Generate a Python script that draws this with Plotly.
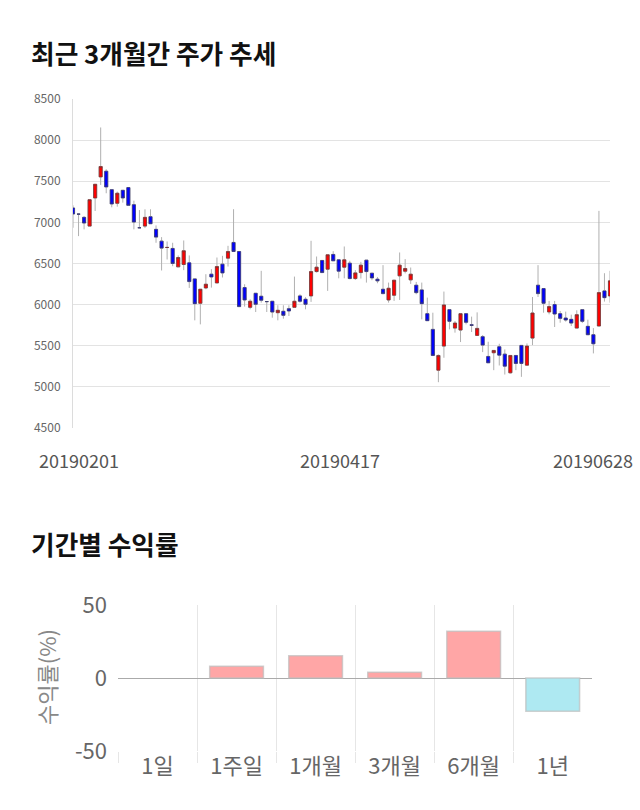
import plotly.graph_objects as go

# ---------------- data ----------------
open_ = [7175, 7100, 7061, 6955, 7297, 7553, 7622, 7398, 7232, 7390,
         7423, 7215, 6935, 6955, 7069, 6915, 6772, 6695, 6683, 6459,
         6488, 6508, 6313, 6016, 6203, 6370, 6264, 6492, 6565, 6756,
         6646, 6207, 5967, 6138, 6102, 6037, 6041, 5902, 5919, 5951,
         5967, 6106, 6065, 6106, 6402, 6537, 6431, 6610, 6545, 6455,
         6504, 6317, 6390, 6541, 6382, 6309, 6187, 6057, 6114, 6350,
         6406, 6301, 6236, 6179, 5890, 5699, 5203, 5496, 5939, 5715,
         5691, 5890, 5756, 5626, 5610, 5370, 5415, 5488, 5398, 5171,
         5382, 5504, 5264, 5593, 6236, 6195, 5911, 6000, 5890, 5837,
         5821, 5715, 5939, 5736, 5634, 5740, 6167, 6106]
high = [7207, 7110, 7077, 7276, 7463, 8154, 7646, 7398, 7374, 7390,
        7423, 7264, 7150, 7159, 7159, 6963, 6821, 6768, 6752, 6598,
        6780, 6598, 6313, 6187, 6370, 6431, 6573, 6593, 6715, 7160,
        6646, 6248, 6065, 6138, 6411, 6037, 6041, 5992, 5992, 5992,
        6341, 6126, 6090, 6776, 6585, 6537, 6606, 6650, 6545, 6707,
        6533, 6420, 6520, 6541, 6382, 6335, 6480, 6268, 6297, 6634,
        6553, 6451, 6276, 6268, 6085, 5902, 5394, 6159, 5939, 5801,
        5890, 5890, 5854, 5906, 5630, 5549, 5443, 5524, 5455, 5382,
        5382, 5504, 5528, 6093, 6480, 6195, 6045, 6045, 5923, 5915,
        5878, 5931, 5939, 5817, 5715, 7140, 6382, 6411]
low = [6935, 6833, 6915, 6955, 7138, 7455, 7354, 7183, 7191, 7240,
       7203, 6915, 6927, 6931, 6984, 6752, 6415, 6549, 6467, 6459,
       6419, 6203, 5809, 5760, 6187, 6207, 6264, 6330, 6463, 6646,
       5976, 5976, 5943, 5910, 6024, 5910, 5841, 5809, 5829, 5862,
       5967, 6024, 5943, 6033, 6390, 6390, 6167, 6533, 6320, 6320,
       6309, 6300, 6317, 6268, 6297, 6260, 6126, 6024, 6045, 6057,
       6380, 6252, 6126, 5821, 5801, 5374, 5057, 5354, 5699, 5659,
       5545, 5760, 5667, 5626, 5423, 5293, 5203, 5260, 5150, 5163,
       5203, 5122, 5264, 5508, 6093, 5902, 5882, 5728, 5780, 5793,
       5740, 5715, 5776, 5634, 5407, 5740, 6037, 6024]
close = [7102, 7100, 6992, 7276, 7463, 7679, 7431, 7224, 7354, 7297,
         7207, 7004, 6935, 7061, 6984, 6821, 6687, 6695, 6500, 6573,
         6655, 6280, 6012, 6187, 6248, 6337, 6463, 6386, 6646, 6646,
         5976, 6057, 6041, 6004, 6053, 6037, 5910, 5931, 5870, 5923,
         6041, 6041, 6004, 6402, 6455, 6390, 6606, 6533, 6407, 6545,
         6317, 6386, 6480, 6402, 6325, 6289, 6134, 6199, 6297, 6480,
         6439, 6370, 6146, 6012, 5805, 5382, 5382, 5996, 5797, 5776,
         5890, 5785, 5748, 5711, 5508, 5293, 5443, 5386, 5252, 5382,
         5285, 5285, 5496, 5898, 6134, 6016, 5976, 5886, 5833, 5813,
         5776, 5878, 5797, 5634, 5524, 6146, 6085, 6289]
day_index = list(range(len(open_)))
date_labels = ["20190201", "20190417", "20190628"]
date_label_index = [0, 48, len(open_) - 1]

periods = ["1일", "1주일", "1개월", "3개월", "6개월", "1년"]
returns = [0.0, 8.0, 15.2, 3.9, 32.0, -22.8]
return_ticks = [-50, 0, 50]
return_tick_text = ["-50", "0", "50"]

# ---------------- layout helpers ----------------
W, H = 640, 810
FONT = "Noto Sans CJK KR"


def fx(p):
    return p / W


def fy(p):
    return 1 - p / H


body_hi = [max(o, c) for o, c in zip(open_, close)]
body_lo = [min(o, c) for o, c in zip(open_, close)]

fig = go.Figure()
# wicks (gray)
fig.add_trace(go.Candlestick(
    x=day_index, open=open_, high=high, low=low, close=close,
    increasing=dict(line=dict(color="#b0b0b0", width=1), fillcolor="rgba(0,0,0,0)"),
    decreasing=dict(line=dict(color="#b0b0b0", width=1), fillcolor="rgba(0,0,0,0)"),
    whiskerwidth=0, xaxis="x", yaxis="y", hoverinfo="skip", showlegend=False))
# bodies
fig.add_trace(go.Candlestick(
    x=day_index, open=open_, high=body_hi, low=body_lo, close=close,
    increasing=dict(line=dict(color="#703838", width=0.7), fillcolor="#ff0000"),
    decreasing=dict(line=dict(color="#383870", width=0.7), fillcolor="#0000ff"),
    whiskerwidth=0, xaxis="x", yaxis="y", hoverinfo="skip", showlegend=False))

bar_colors = ["#ffa6a6" if v >= 0 else "#aee9f2" for v in returns]
bar_line_w = [0 if v == 0 else 1.5 for v in returns]
fig.add_trace(go.Bar(
    x=periods, y=returns, xaxis="x2", yaxis="y2",
    marker=dict(color=bar_colors,
                line=dict(color="rgba(190,190,190,0.7)", width=bar_line_w)),
    hoverinfo="skip", showlegend=False))

annotations = [
    dict(text="<b>최근 3개월간 주가 추세</b>", xref="paper", yref="paper",
         x=fx(29), y=fy(52), xanchor="left", yanchor="middle", showarrow=False,
         font=dict(family=FONT, size=25.7, color="#111")),
    dict(text="<b>기간별 수익률</b>", xref="paper", yref="paper",
         x=fx(29), y=fy(543), xanchor="left", yanchor="middle", showarrow=False,
         font=dict(family=FONT, size=25.7, color="#111")),
    dict(text="수익률(%)", xref="paper", yref="paper", textangle=-90,
         x=fx(46), y=fy(677), xanchor="center", yanchor="middle", showarrow=False,
         font=dict(family=FONT, size=22, color="#888")),
]
shifts = [6, 1, -17]
for lab, idx, sh in zip(date_labels, date_label_index, shifts):
    annotations.append(dict(text=lab, xref="x", yref="paper", x=idx, y=fy(460),
                            xshift=sh, xanchor="center", yanchor="middle",
                            showarrow=False,
                            font=dict(family=FONT, size=18, color="#555")))

fig.update_layout(
    template="none",
    width=W, height=H, margin=dict(l=0, r=0, t=0, b=0, pad=0, autoexpand=False),
    autosize=False,
    paper_bgcolor="white", plot_bgcolor="white",
    font=dict(family=FONT, color="#666"),
    showlegend=False, bargap=0.32, boxgap=0.2,
    xaxis=dict(domain=[fx(73), fx(610)], range=[0, len(open_) - 1],
               showgrid=False, showticklabels=False, zeroline=False,
               rangeslider=dict(visible=False), ticks="", showline=False,
               anchor="y", automargin=False),
    yaxis=dict(domain=[fy(428), fy(99)], range=[4500, 8500], dtick=500,
               gridcolor="#e3e3e3", gridwidth=1, zeroline=False,
               showline=True, linecolor="#dcdcdc", linewidth=1, ticks="",
               tickfont=dict(family=FONT, size=12, color="#666"),
               ticklabelstandoff=9, anchor="x", automargin=False),
    xaxis2=dict(domain=[fx(118), fx(592)], anchor="y2", type="category",
                tickson="boundaries", showgrid=True, gridcolor="#e6e6e6",
                ticks="outside", ticklen=11, tickcolor="#e6e6e6",
                tickfont=dict(family=FONT, size=22, color="#666"),
                zeroline=False, showline=False, range=[-0.5, 5.497],
                automargin=False),
    yaxis2=dict(domain=[fy(751), fy(605)], anchor="x2", range=[-50, 50],
                tickvals=return_ticks, ticktext=return_tick_text,
                gridcolor="#e0e0e0", ticks="",
                zeroline=True, zerolinecolor="#aaaaaa", zerolinewidth=1,
                tickfont=dict(family=FONT, size=22, color="#666"),
                ticklabelstandoff=10, showline=False, automargin=False),
    annotations=annotations,
)

fig.write_html("out.html")
